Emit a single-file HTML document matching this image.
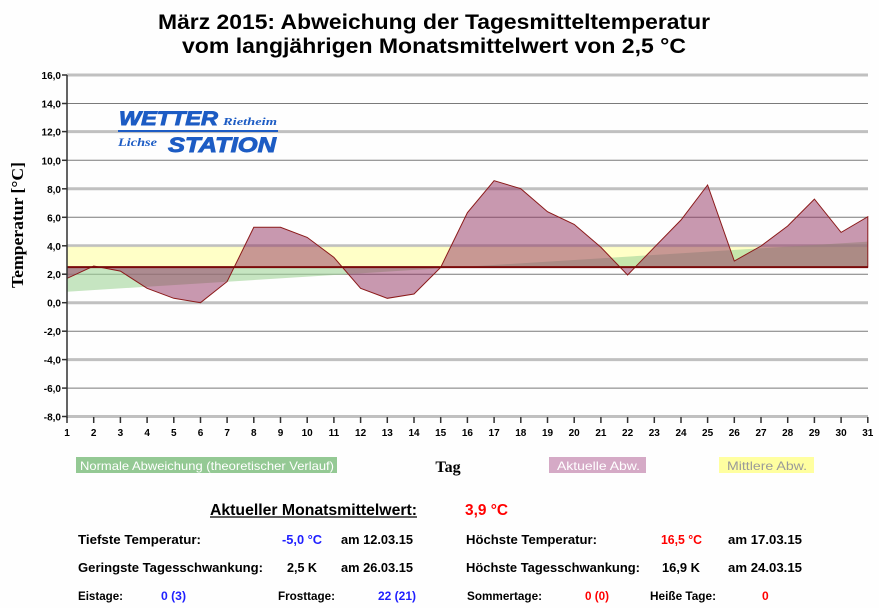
<!DOCTYPE html>
<html><head><meta charset="utf-8"><style>
html,body{margin:0;padding:0;background:#fff;}
svg{display:block;}
text{font-family:"Liberation Sans",Arial,sans-serif;}
.serif{font-family:"Liberation Serif","Times New Roman",serif;}
</style></head><body>
<svg width="879" height="608" viewBox="0 0 879 608" xmlns="http://www.w3.org/2000/svg">
<rect width="879" height="608" fill="#fefefe"/>
<!-- title -->
<text x="434" y="29" font-size="21" font-weight="bold" text-anchor="middle" textLength="552" lengthAdjust="spacingAndGlyphs">März 2015: Abweichung der Tagesmitteltemperatur</text>
<text x="434" y="53" font-size="21" font-weight="bold" text-anchor="middle" textLength="504" lengthAdjust="spacingAndGlyphs">vom langjährigen Monatsmittelwert von 2,5 °C</text>

<!-- gridlines -->
<g stroke="#c0c0c0" stroke-width="3">
<line x1="67" y1="75" x2="868" y2="75"/>
<line x1="67" y1="131.6" x2="868" y2="131.6"/>
<line x1="67" y1="188.8" x2="868" y2="188.8"/>
<line x1="67" y1="245.8" x2="868" y2="245.8"/>
<line x1="67" y1="302.7" x2="868" y2="302.7"/>
<line x1="67" y1="359.6" x2="868" y2="359.6"/>
<line x1="67" y1="416.5" x2="868" y2="416.5"/>
</g>
<g stroke="#7a7a7a" stroke-width="1">
<line x1="67" y1="103.5" x2="868" y2="103.5"/>
<line x1="67" y1="160.3" x2="868" y2="160.3"/>
<line x1="67" y1="217.3" x2="868" y2="217.3"/>
<line x1="67" y1="274.2" x2="868" y2="274.2"/>
<line x1="67" y1="331.2" x2="868" y2="331.2"/>
<line x1="67" y1="388.1" x2="868" y2="388.1"/>
</g>

<!-- yellow band -->
<rect x="67" y="246.8" width="801" height="20.3" fill="#ffffb4" fill-opacity="0.75"/>
<!-- green normal -->
<polygon points="67,267.1 67,291.7 868,241.6 868,267.1" fill="#a0d498" fill-opacity="0.6"/>
<!-- purple actual -->
<polygon fill="#91315f" fill-opacity="0.5" stroke="#8b1a1a" stroke-width="1" stroke-linejoin="miter"
points="67,267.1 67,278.4 93.7,266.0 120.4,271.1 147.1,288.3 173.8,298.3 200.5,302.7 227.1,281.6 253.8,227.3 280.5,227.3 307.2,237.4 333.9,257.4 360.6,288.3 387.3,298.3 414.0,294.0 440.7,267.3 467.4,212.7 494.1,180.7 520.8,188.7 547.5,211.7 574.2,224.4 600.9,247.3 627.6,275.0 654.3,247.3 681.0,220.0 707.6,185.0 734.3,261.0 761.0,246.0 787.7,226.0 814.4,199.1 841.1,232.4 867.8,216.7 867.8,267.1"/>
<line x1="67" y1="267.1" x2="868" y2="267.1" stroke="#7a0a0a" stroke-width="2"/>

<!-- axes -->
<line x1="67" y1="75" x2="67" y2="418" stroke="#303030" stroke-width="1.5"/>
<g stroke="#303030" stroke-width="1.5">
<line x1="62" y1="75" x2="67" y2="75"/><line x1="62" y1="103.5" x2="67" y2="103.5"/>
<line x1="62" y1="131.6" x2="67" y2="131.6"/><line x1="62" y1="160.3" x2="67" y2="160.3"/>
<line x1="62" y1="188.8" x2="67" y2="188.8"/><line x1="62" y1="217.3" x2="67" y2="217.3"/>
<line x1="62" y1="245.8" x2="67" y2="245.8"/><line x1="62" y1="274.2" x2="67" y2="274.2"/>
<line x1="62" y1="302.7" x2="67" y2="302.7"/><line x1="62" y1="331.2" x2="67" y2="331.2"/>
<line x1="62" y1="359.6" x2="67" y2="359.6"/><line x1="62" y1="388.1" x2="67" y2="388.1"/>
<line x1="62" y1="416.5" x2="67" y2="416.5"/>
</g>
<g stroke="#303030" stroke-width="1.5">
<line x1="67" y1="417" x2="67" y2="423"/><line x1="93.7" y1="417" x2="93.7" y2="423"/><line x1="120.4" y1="417" x2="120.4" y2="423"/><line x1="147.1" y1="417" x2="147.1" y2="423"/><line x1="173.8" y1="417" x2="173.8" y2="423"/><line x1="200.5" y1="417" x2="200.5" y2="423"/><line x1="227.1" y1="417" x2="227.1" y2="423"/><line x1="253.8" y1="417" x2="253.8" y2="423"/><line x1="280.5" y1="417" x2="280.5" y2="423"/><line x1="307.2" y1="417" x2="307.2" y2="423"/><line x1="333.9" y1="417" x2="333.9" y2="423"/><line x1="360.6" y1="417" x2="360.6" y2="423"/><line x1="387.3" y1="417" x2="387.3" y2="423"/><line x1="414" y1="417" x2="414" y2="423"/><line x1="440.7" y1="417" x2="440.7" y2="423"/><line x1="467.4" y1="417" x2="467.4" y2="423"/><line x1="494.1" y1="417" x2="494.1" y2="423"/><line x1="520.8" y1="417" x2="520.8" y2="423"/><line x1="547.5" y1="417" x2="547.5" y2="423"/><line x1="574.2" y1="417" x2="574.2" y2="423"/><line x1="600.9" y1="417" x2="600.9" y2="423"/><line x1="627.6" y1="417" x2="627.6" y2="423"/><line x1="654.3" y1="417" x2="654.3" y2="423"/><line x1="681" y1="417" x2="681" y2="423"/><line x1="707.6" y1="417" x2="707.6" y2="423"/><line x1="734.3" y1="417" x2="734.3" y2="423"/><line x1="761" y1="417" x2="761" y2="423"/><line x1="787.7" y1="417" x2="787.7" y2="423"/><line x1="814.4" y1="417" x2="814.4" y2="423"/><line x1="841.1" y1="417" x2="841.1" y2="423"/><line x1="867.8" y1="417" x2="867.8" y2="423"/>
</g>

<!-- y tick labels -->
<g font-size="10" font-weight="bold" text-anchor="end" fill="#000">
<text x="61" y="79">16,0</text><text x="61" y="107.5">14,0</text><text x="61" y="135.6">12,0</text><text x="61" y="164.3">10,0</text><text x="61" y="192.8">8,0</text><text x="61" y="221.3">6,0</text><text x="61" y="249.8">4,0</text><text x="61" y="278.2">2,0</text><text x="61" y="306.7">0,0</text><text x="61" y="335.2">-2,0</text><text x="61" y="363.6">-4,0</text><text x="61" y="392.1">-6,0</text><text x="61" y="420.5">-8,0</text>
</g>
<!-- x tick labels -->
<g font-size="10" font-weight="bold" text-anchor="middle" fill="#000">
<text x="67" y="436">1</text><text x="93.7" y="436">2</text><text x="120.4" y="436">3</text><text x="147.1" y="436">4</text><text x="173.8" y="436">5</text><text x="200.5" y="436">6</text><text x="227.1" y="436">7</text><text x="253.8" y="436">8</text><text x="280.5" y="436">9</text><text x="307.2" y="436">10</text><text x="333.9" y="436">11</text><text x="360.6" y="436">12</text><text x="387.3" y="436">13</text><text x="414" y="436">14</text><text x="440.7" y="436">15</text><text x="467.4" y="436">16</text><text x="494.1" y="436">17</text><text x="520.8" y="436">18</text><text x="547.5" y="436">19</text><text x="574.2" y="436">20</text><text x="600.9" y="436">21</text><text x="627.6" y="436">22</text><text x="654.3" y="436">23</text><text x="681" y="436">24</text><text x="707.6" y="436">25</text><text x="734.3" y="436">26</text><text x="761" y="436">27</text><text x="787.7" y="436">28</text><text x="814.4" y="436">29</text><text x="841.1" y="436">30</text><text x="867.8" y="436">31</text>
</g>

<!-- y axis title -->
<text class="serif" x="0" y="0" font-size="17" font-weight="bold" text-anchor="middle" transform="translate(23,225) rotate(-90)" textLength="126" lengthAdjust="spacingAndGlyphs">Temperatur [°C]</text>

<!-- logo -->
<g fill="#1d5cc4">
<text x="119" y="125" font-size="19" font-weight="bold" font-style="italic" stroke="#1d5cc4" stroke-width="0.9" textLength="99" lengthAdjust="spacingAndGlyphs">WETTER</text>
<text class="serif" x="223" y="125" font-size="11" font-weight="bold" font-style="italic" textLength="54" lengthAdjust="spacingAndGlyphs">Rietheim</text>
<rect x="118" y="130" width="160" height="2"/>
<text class="serif" x="118" y="146" font-size="12" font-weight="bold" font-style="italic" textLength="39" lengthAdjust="spacingAndGlyphs">Lichse</text>
<text x="168" y="152" font-size="21" font-weight="bold" font-style="italic" stroke="#1d5cc4" stroke-width="0.9" textLength="108" lengthAdjust="spacingAndGlyphs">STATION</text>
</g>

<!-- legend -->
<rect x="76" y="457" width="261" height="16" fill="#94c994"/>
<text x="80" y="470" font-size="12" fill="#fff" textLength="254" lengthAdjust="spacingAndGlyphs">Normale Abweichung (theoretischer Verlauf)</text>
<text class="serif" x="448" y="472" font-size="16" font-weight="bold" text-anchor="middle">Tag</text>
<rect x="549" y="457" width="97" height="16" fill="#d5aac6"/>
<text x="557" y="470" font-size="12" fill="#fff" textLength="83" lengthAdjust="spacingAndGlyphs">Aktuelle Abw.</text>
<rect x="719" y="457" width="95" height="16" fill="#ffffa0"/>
<text x="727" y="470" font-size="12" fill="#9a9a9a" textLength="80" lengthAdjust="spacingAndGlyphs">Mittlere Abw.</text>

<!-- table -->
<g font-weight="bold">
<text x="210" y="515" font-size="16" textLength="207" lengthAdjust="spacingAndGlyphs">Aktueller Monatsmittelwert:</text>
<line x1="210" y1="517" x2="417" y2="517" stroke="#000" stroke-width="1.3"/>
<text x="465" y="515" font-size="16" fill="#ff0000" textLength="43" lengthAdjust="spacingAndGlyphs">3,9 °C</text>

<g font-size="13">
<text x="78" y="544" textLength="123" lengthAdjust="spacingAndGlyphs">Tiefste Temperatur:</text>
<text x="282" y="544" fill="#2020ff" textLength="40" lengthAdjust="spacingAndGlyphs">-5,0 °C</text>
<text x="341" y="544" textLength="72" lengthAdjust="spacingAndGlyphs">am 12.03.15</text>
<text x="466" y="544" textLength="131" lengthAdjust="spacingAndGlyphs">Höchste Temperatur:</text>
<text x="661" y="544" fill="#ff0000" textLength="41" lengthAdjust="spacingAndGlyphs">16,5 °C</text>
<text x="728" y="544" textLength="74" lengthAdjust="spacingAndGlyphs">am 17.03.15</text>

<text x="78" y="572" textLength="185" lengthAdjust="spacingAndGlyphs">Geringste Tagesschwankung:</text>
<text x="287" y="572" textLength="30" lengthAdjust="spacingAndGlyphs">2,5 K</text>
<text x="341" y="572" textLength="72" lengthAdjust="spacingAndGlyphs">am 26.03.15</text>
<text x="466" y="572" textLength="174" lengthAdjust="spacingAndGlyphs">Höchste Tagesschwankung:</text>
<text x="662" y="572" textLength="38" lengthAdjust="spacingAndGlyphs">16,9 K</text>
<text x="728" y="572" textLength="74" lengthAdjust="spacingAndGlyphs">am 24.03.15</text>
</g>
<g font-size="12">
<text x="78" y="600" textLength="45" lengthAdjust="spacingAndGlyphs">Eistage:</text>
<text x="161" y="600" fill="#2020ff" textLength="25" lengthAdjust="spacingAndGlyphs">0 (3)</text>
<text x="278" y="600" textLength="57" lengthAdjust="spacingAndGlyphs">Frosttage:</text>
<text x="378" y="600" fill="#2020ff" textLength="38" lengthAdjust="spacingAndGlyphs">22 (21)</text>
<text x="467" y="600" textLength="75" lengthAdjust="spacingAndGlyphs">Sommertage:</text>
<text x="585" y="600" fill="#ff0000" textLength="24" lengthAdjust="spacingAndGlyphs">0 (0)</text>
<text x="650" y="600" textLength="66" lengthAdjust="spacingAndGlyphs">Heiße Tage:</text>
<text x="762" y="600" fill="#ff0000">0</text>
</g>
</g>
</svg>
</body></html>
